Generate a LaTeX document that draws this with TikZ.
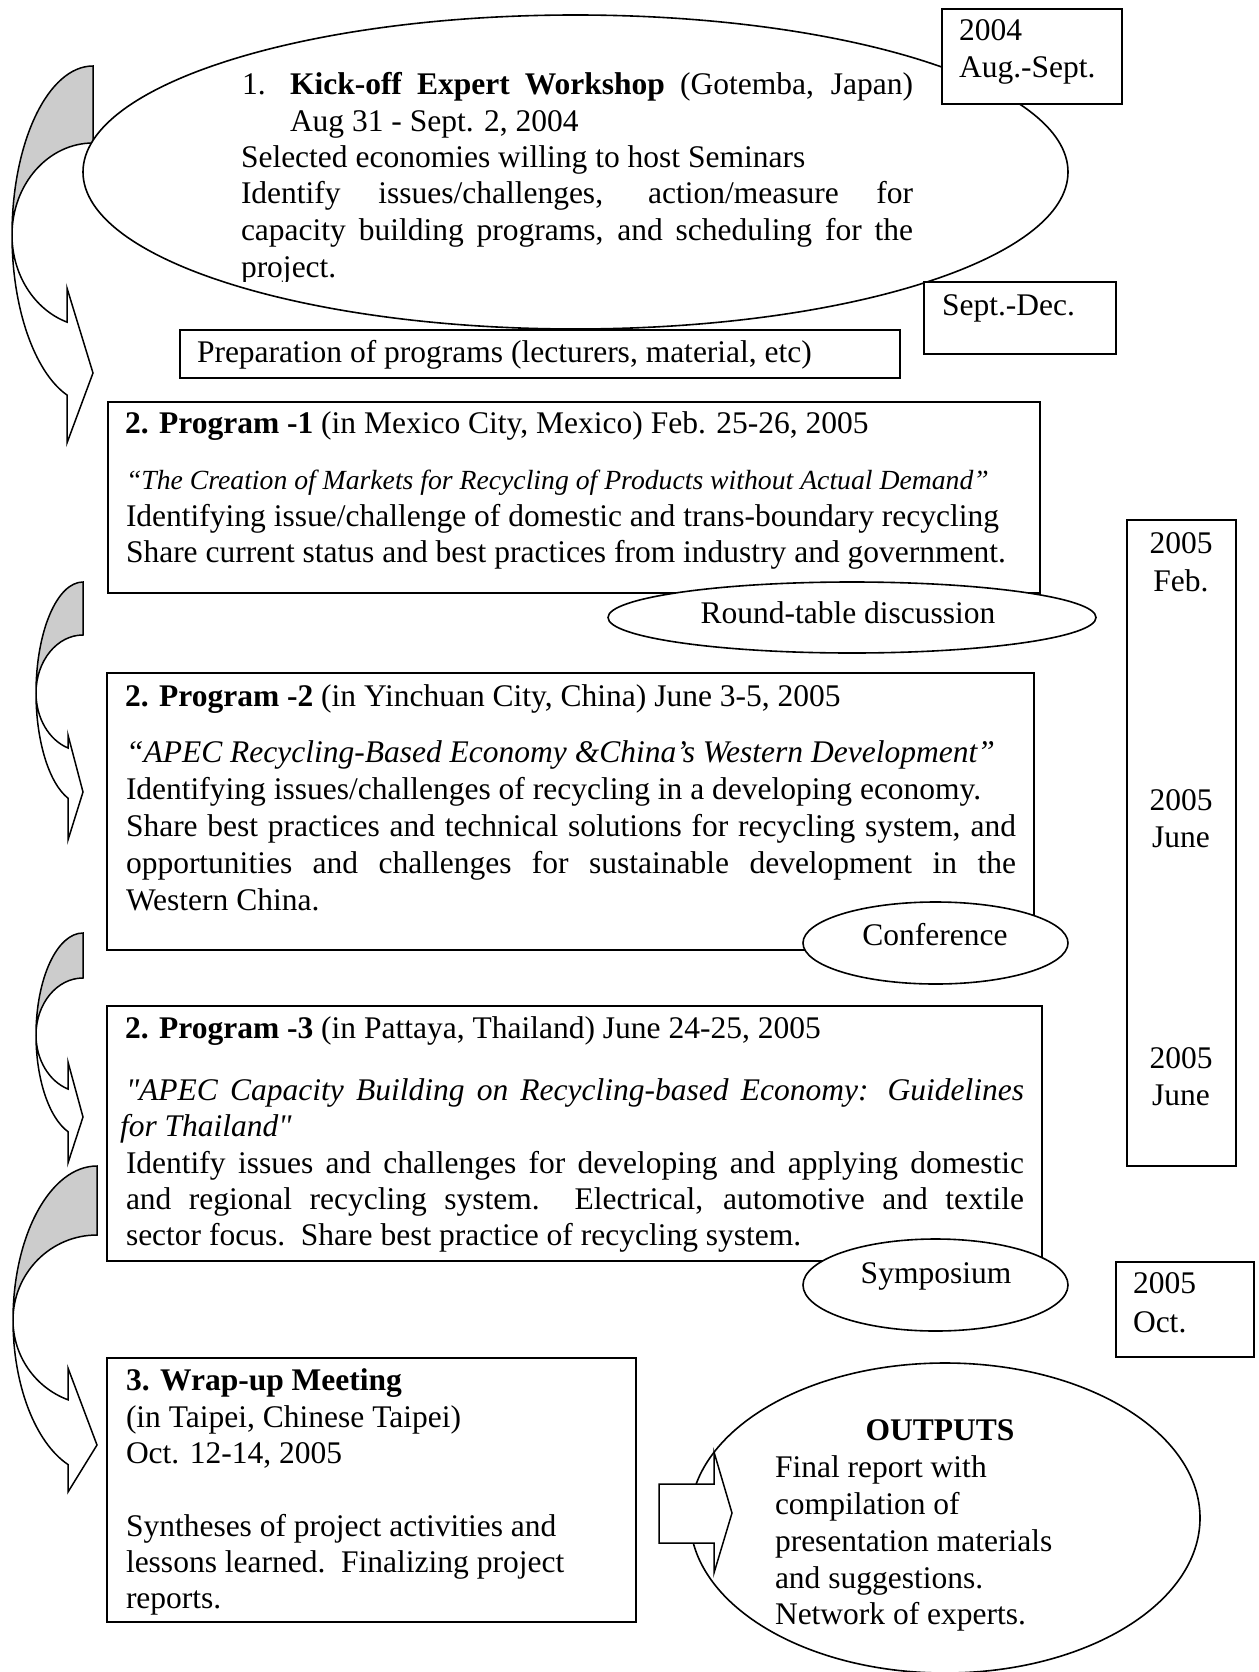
\documentclass[tikz,border=0pt]{standalone}
\usepackage{fontspec}
\setmainfont{Liberation Serif}
\newfontfamily\rawserif{Liberation Serif}
\usetikzlibrary{shapes.geometric}
\definecolor{bandgray}{HTML}{CCCCCC}
\newcommand\mainsz{\fontsize{31.5}{36.6}\selectfont}
\newcommand\smallit{\fontsize{27.7}{33}\selectfont\itshape}
\newcommand\sq{{\rawserif\itshape\symbol{34}}}
\newcommand\curvarrow[9]{%
  \pgfmathsetmacro\ca{acos((#6-#1)/#3)}%
  \pgfmathsetmacro\ix{#1+#3*cos(\ca)}%
  \pgfmathsetmacro\iy{#2+#5*sin(\ca)}%
  \draw[arrline, fill=bandgray] (#1,#2-#4)
     arc[start angle=270, end angle=180, x radius=#3, y radius=#4]
     arc[start angle=180, end angle=270, x radius=#3, y radius=#5] -- cycle;
  \draw[arrline, fill=white] (#1-#3,#2)
     arc[start angle=180, end angle=\ca, x radius=#3, y radius=#4]
     -- (#6,#9) -- (#1,#8) -- (#6,#7) -- (\ix,\iy)
     arc[start angle=\ca, end angle=180, x radius=#3, y radius=#5] -- cycle;
}
\begin{document}
\begin{tikzpicture}[x=1pt,y=-1pt,
  boxst/.style={draw, line width=1.6pt, fill=white, inner sep=0pt, outer sep=0pt},
  ellst/.style={ellipse, draw, line width=1.6pt, fill=white, inner sep=0pt, outer sep=0pt},
  arrline/.style={draw, line width=1.5pt, line join=miter},
  tx/.style={anchor=base west, inner sep=0pt, outer sep=0pt, font=\mainsz},
  tc/.style={anchor=base, inner sep=0pt, outer sep=0pt, font=\mainsz}]
\fill[white] (0,0) rectangle (1258,1672);
\useasboundingbox (0,0) rectangle (1258,1672);

% curved arrows on the left
\curvarrow{93}{235}{81}{169}{92}{67}{288}{373}{443}
\curvarrow{83}{693}{47}{111}{58}{68}{735}{792}{840}
\curvarrow{83}{1035}{47}{102}{57}{68}{1062}{1117}{1163}
\curvarrow{97}{1320}{84}{154}{85}{68}{1368}{1445}{1492}

% kick-off ellipse and date boxes
\node[ellst, minimum width=985, minimum height=314] (kick) at (575.5,172) {};
\node[boxst, minimum width=180, minimum height=95] (y2004) at (1032,56.5) {};
\node[boxst, minimum width=192, minimum height=72] (sepdec) at (1020,318) {};
\node[boxst, minimum width=720, minimum height=48] (prep) at (540,354) {};

% programs
\node[boxst, minimum width=932, minimum height=191] (p1) at (574,497.5) {};
\node[ellst, minimum width=488, minimum height=71] (round) at (852,617.5) {};
\node[boxst, minimum width=927, minimum height=277] (p2) at (570.5,811.5) {};
\node[ellst, minimum width=265, minimum height=82] (conf) at (935.5,943) {};
\node[boxst, minimum width=935, minimum height=255] (p3) at (574.5,1133.5) {};
\node[ellst, minimum width=265, minimum height=92] (symp) at (935.5,1285) {};
\node[boxst, minimum width=109, minimum height=646] (tall) at (1181.5,843) {};
\node[boxst, minimum width=138, minimum height=95] (oct) at (1185,1309.5) {};
\node[boxst, minimum width=529, minimum height=264] (wrap) at (371.5,1490) {};
\node[ellst, minimum width=510, minimum height=310] (outp) at (945,1518) {};
\draw[arrline, fill=white] (659,1484) -- (714,1484) -- (714,1452) -- (732,1513)
   -- (714,1573) -- (714,1543) -- (659,1543) -- cycle;

% texts: kick-off
\node[tx] (k1) at (242,95) {1.};
\node[tx] (k2) at (290,95) {\makebox[623pt][s]{\textbf{Kick-off Expert Workshop} (Gotemba, Japan)}};
\node[tx] (k3) at (290,132) {Aug 31 - Sept. 2, 2004};
\node[tx] (k4) at (241,168) {Selected economies willing to host Seminars};
\node[tx] (k5) at (241,204) {\makebox[672pt][s]{Identify issues/challenges, action/measure for}};
\node[tx] (k6) at (241,240) {\makebox[672pt][s]{capacity building programs, and scheduling for the}};
\begin{scope}
\clip (230,240) rectangle (420,281);
\node[tx] (k7) at (241,277) {project.};
\end{scope}

\node[tx] (d1) at (959,41) {2004};
\node[tx] (d2) at (959,78) {Aug.-Sept.};
\node[tx] (d3) at (942,315) {Sept.-Dec.};
\node[tx] (pr) at (197,362) {Preparation of programs (lecturers, material, etc)};

% program 1
\node[tx] (a1) at (125,433) {\textbf{2. Program -1} (in Mexico City, Mexico) Feb. 25-26, 2005};
\node[tx] (a2) at (126,489) {\smallit “The Creation of Markets for Recycling of Products without Actual Demand”};
\node[tx] (a3) at (126,526) {Identifying issue/challenge of domestic and trans-boundary recycling};
\node[tx] (a4) at (126,562) {Share current status and best practices from industry and government.};
\node[tc] (rt) at (848,623) {Round-table discussion};

% program 2
\node[tx] (b1) at (125,706) {\textbf{2. Program -2} (in Yinchuan City, China) June 3-5, 2005};
\node[tx] (b2) at (126,762) {\itshape “APEC Recycling-Based Economy \&China’s Western Development”};
\node[tx] (b3) at (126,799) {Identifying issues/challenges of recycling in a developing economy.};
\node[tx] (b4) at (126,836) {\makebox[890pt][s]{Share best practices and technical solutions for recycling system, and}};
\node[tx] (b5) at (126,873) {\makebox[890pt][s]{opportunities and challenges for sustainable development in the}};
\node[tx] (b6) at (126,910) {Western China.};
\node[tc] (cf) at (935,945) {Conference};

% program 3
\node[tx] (c1) at (125,1038) {\textbf{2. Program -3} (in Pattaya, Thailand) June 24-25, 2005};
\node[tx] (c2) at (126,1100) {\itshape\makebox[898pt][s]{\sq APEC Capacity Building on Recycling-based Economy: Guidelines}};
\node[tx] (c3) at (120,1136) {\itshape for Thailand\sq};
\node[tx] (c4) at (126,1173) {\makebox[898pt][s]{Identify issues and challenges for developing and applying domestic}};
\node[tx] (c5) at (126,1209) {\makebox[898pt][s]{and regional recycling system.\ \ Electrical, automotive and textile}};
\node[tx] (c6) at (126,1245) {sector focus.\ \ Share best practice of recycling system.};
\node[tc] (sy) at (936,1283) {Symposium};

% dates column
\node[tc] (e1) at (1181,553) {2005};
\node[tc] (e2) at (1181,591) {Feb.};
\node[tc] (e3) at (1181,810) {2005};
\node[tc] (e4) at (1181,847) {June};
\node[tc] (e5) at (1181,1068) {2005};
\node[tc] (e6) at (1181,1105) {June};
\node[tx] (e7) at (1133,1293) {2005};
\node[tx] (e8) at (1133,1332) {Oct.};

% wrap-up
\node[tx] (w1) at (126,1390) {\textbf{3. Wrap-up Meeting}};
\node[tx] (w2) at (126,1427) {(in Taipei, Chinese Taipei)};
\node[tx] (w3) at (126,1463) {Oct. 12-14, 2005};
\node[tx] (w4) at (126,1536) {Syntheses of project activities and};
\node[tx] (w5) at (126,1572) {lessons learned.\ \ Finalizing project};
\node[tx] (w6) at (126,1608) {reports.};

% outputs
\node[tc] (o0) at (940,1440) {\textbf{OUTPUTS}};
\node[tx] (o1) at (775,1477) {Final report with};
\node[tx] (o2) at (775,1514) {compilation of};
\node[tx] (o3) at (775,1551) {presentation materials};
\node[tx] (o4) at (775,1588) {and suggestions.};
\node[tx] (o5) at (775,1624) {Network of experts.};
\end{tikzpicture}
\end{document}
